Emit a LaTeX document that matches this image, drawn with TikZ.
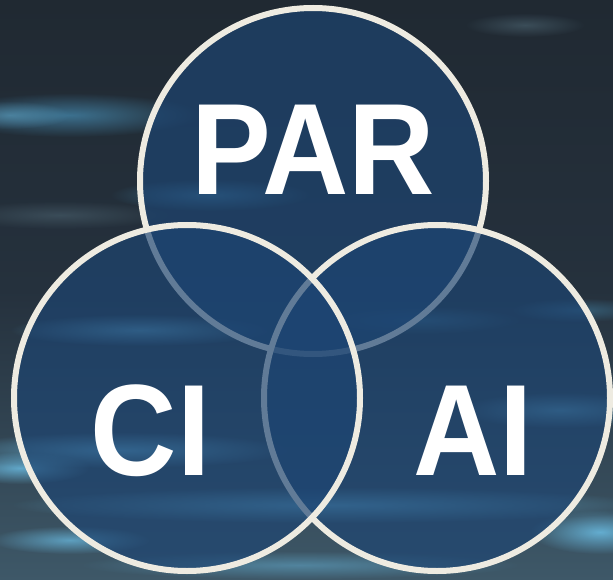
\documentclass[tikz,border=0pt]{standalone}
\usepackage{fontspec}
\setmainfont{Liberation Sans}
\usetikzlibrary{fadings}
\definecolor{bgtop}{HTML}{202932}
\definecolor{bgmid}{HTML}{25313D}
\definecolor{bgbot}{HTML}{3E5868}
\definecolor{streakA}{HTML}{66B2D6}
\definecolor{streakB}{HTML}{3F7898}
\definecolor{streakC}{HTML}{56707E}
\definecolor{circfill}{HTML}{1D4573}
\definecolor{cream}{HTML}{EEEBE1}
\tikzfading[name=softglow, inner color=transparent!0, outer color=transparent!100]
\tikzset{
  vcirc/.style={circle, minimum size=346pt, inner sep=0pt, draw=cream, line width=6pt, fill=circfill, fill opacity=0.67},
  lbl/.style={anchor=base, text=white, font=\fontsize{130}{130}\selectfont\bfseries, inner sep=0pt},
  streak/.style={path fading=softglow}
}
\begin{document}
\begin{tikzpicture}[x=1pt,y=-1pt]
\useasboundingbox (0,0) rectangle (613,580);
\shade[top color=bgtop, bottom color=bgbot, middle color=bgmid] (0,0) rectangle (613,580);
% background streaks
\fill[streakB, opacity=0.9, streak] (70,115) ellipse [x radius=130, y radius=22];
\fill[streakA, opacity=0.5, streak] (10,115) ellipse [x radius=60, y radius=14];
\fill[streakC, opacity=0.5, streak] (525,25) ellipse [x radius=60, y radius=12];
\fill[streakC, opacity=0.45, streak] (60,215) ellipse [x radius=110, y radius=14];
\fill[streakB, opacity=0.8, streak] (210,195) ellipse [x radius=100, y radius=16];
\fill[streakA, opacity=0.7, streak] (140,330) ellipse [x radius=130, y radius=16];
\fill[streakA, opacity=0.85, streak] (120,450) ellipse [x radius=170, y radius=18];
\fill[streakA, opacity=0.9, streak] (20,468) ellipse [x radius=70, y radius=16];
\fill[streakA, opacity=0.8, streak] (330,505) ellipse [x radius=320, y radius=18];
\fill[streakA, opacity=0.8, streak] (70,540) ellipse [x radius=80, y radius=14];
\fill[streakA, opacity=0.95, streak] (600,532) ellipse [x radius=70, y radius=22];
\fill[streakA, opacity=0.65, streak] (560,410) ellipse [x radius=100, y radius=18];
\fill[streakB, opacity=0.6, streak] (580,310) ellipse [x radius=70, y radius=12];
\fill[streakB, opacity=0.6, streak] (420,320) ellipse [x radius=100, y radius=14];
\fill[streakA, opacity=0.5, streak] (300,565) ellipse [x radius=220, y radius=14];
% circles
\node[vcirc] (par) at (313,181) {};
\node[vcirc] (ai) at (437,398) {};
\node[vcirc] (ci) at (187,398) {};
% labels
\node[lbl] (tpar) at (313,195) {\scalebox{0.92}[1]{PAR}};
\node[lbl] (tci) at (150.5,475) {\scalebox{0.92}[1]{CI}};
\node[lbl] (tai) at (473,475) {\scalebox{0.92}[1]{AI}};
\end{tikzpicture}
\end{document}
